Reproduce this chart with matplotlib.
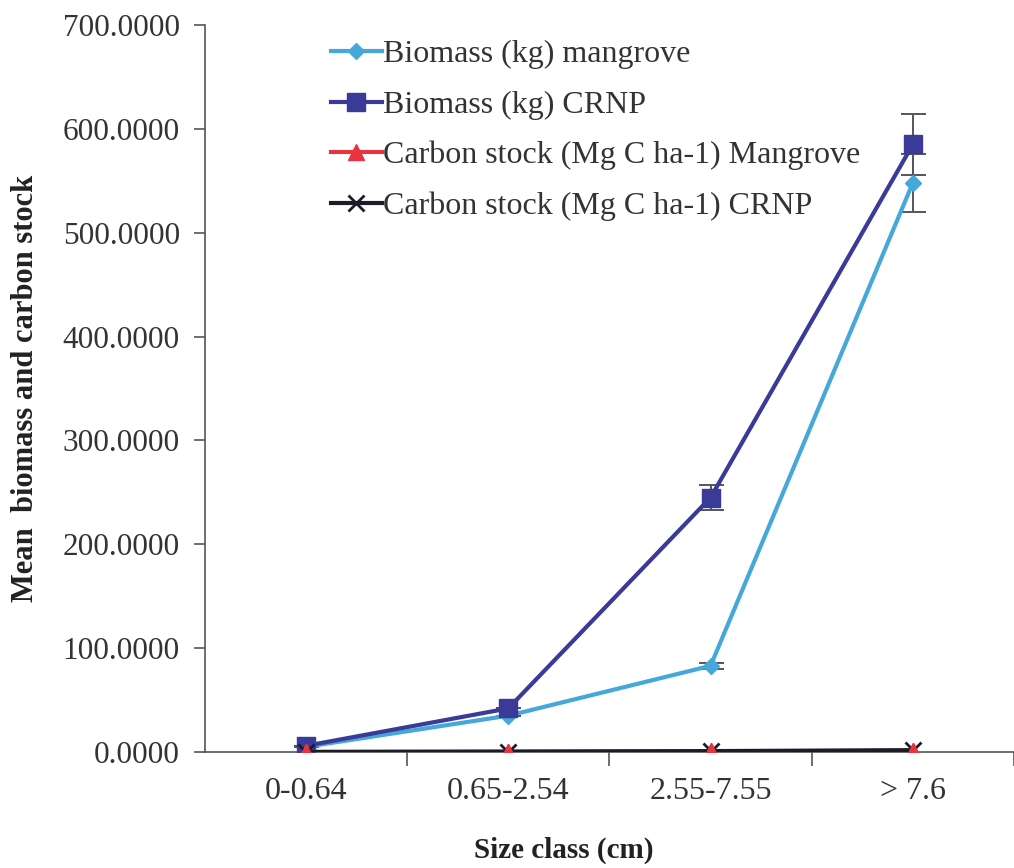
import matplotlib
matplotlib.use("Agg")
import matplotlib.pyplot as plt
from matplotlib.ticker import FuncFormatter, FixedLocator, NullFormatter

plt.rcParams['font.family'] = ['Liberation Serif', 'DejaVu Serif']

categories = ["0-0.64", "0.65-2.54", "2.55-7.55", "> 7.6"]
biomass_mangrove = [5.0, 35.0, 83.0, 548.0]
biomass_mangrove_err = [0.0, 0.0, 3.0, 28.0]
biomass_crnp = [6.0, 42.0, 245.0, 585.0]
biomass_crnp_err = [0.0, 0.0, 12.0, 29.0]
carbon_mangrove = [0.1, 0.3, 0.6, 1.2]
carbon_crnp = [0.1, 0.4, 0.9, 1.8]

c_mangrove = "#45a8d8"
c_crnp = "#3a3a98"
c_carb_mangrove = "#e8343e"
c_carb_crnp = "#1c1c28"

fig = plt.figure(figsize=(10.14, 8.68), dpi=100)
ax = fig.add_axes([0.202, 0.1336, 0.798, 0.8376])

x = [i + 0.5 for i in range(len(categories))]

# error bars drawn on their own so the legend keys stay plain
err_kw = dict(fmt="none", ecolor="#555560", elinewidth=1.4, capsize=9,
              capthick=1.4, zorder=2)
ax.errorbar(x, biomass_mangrove, yerr=biomass_mangrove_err, **err_kw)
ax.errorbar(x, biomass_crnp, yerr=biomass_crnp_err, **err_kw)

ax.plot(x, biomass_mangrove, color=c_mangrove, lw=3, marker="D", ms=8,
        label="Biomass (kg) mangrove", zorder=3)
ax.plot(x, biomass_crnp, color=c_crnp, lw=3, marker="s", ms=13,
        label="Biomass (kg) CRNP", zorder=3)
ax.plot(x, carbon_crnp, color=c_carb_crnp, lw=3, marker="x", ms=11, mew=2,
        label="Carbon stock (Mg C ha-1) CRNP", zorder=4)
ax.plot(x, carbon_mangrove, color=c_carb_mangrove, lw=0, marker="^", ms=12,
        zorder=5)
ax.plot(x, carbon_mangrove, color=c_carb_mangrove, lw=3, marker="^", ms=12,
        label="Carbon stock (Mg C ha-1) Mangrove", zorder=3.5)

ax.set_xlim(0, len(categories))
ax.set_ylim(0, 700)
ax.set_yticks(range(0, 701, 100))
ax.yaxis.set_major_formatter(FuncFormatter(lambda v, p: f"{v:.4f}"))

ax.xaxis.set_major_locator(FixedLocator([1, 2, 3, 4]))
ax.xaxis.set_major_formatter(NullFormatter())
ax.xaxis.set_minor_locator(FixedLocator(x))
ax.set_xticklabels(categories, minor=True)
ax.tick_params(axis="x", which="minor", length=0, pad=18, labelsize=23,
               labelcolor="#333333")
ax.tick_params(axis="x", which="major", length=10, width=1.2, color="#555555")
ax.tick_params(axis="y", length=8, width=1.2, color="#555555", pad=10,
               labelsize=22.5, labelcolor="#333333")

for s in ["top", "right"]:
    ax.spines[s].set_visible(False)
for s in ["left", "bottom"]:
    ax.spines[s].set_color("#555555")
    ax.spines[s].set_linewidth(1.2)

ax.set_ylabel("Mean  biomass and carbon stock", fontsize=22, fontweight="bold",
              color="#222222", labelpad=16)
ax.set_xlabel("Size class (cm)", fontsize=21, fontweight="bold",
              color="#222222")
ax.xaxis.set_label_coords(0.443, -0.116)

handles, labels = ax.get_legend_handles_labels()
order = ["Biomass (kg) mangrove", "Biomass (kg) CRNP",
         "Carbon stock (Mg C ha-1) Mangrove", "Carbon stock (Mg C ha-1) CRNP"]
lookup = dict(zip(labels, handles))
leg = ax.legend([lookup[k] for k in order], order, loc="upper left",
                bbox_to_anchor=(0.128, 1.01), frameon=False, fontsize=23,
                handlelength=1.6, handletextpad=0.05, labelspacing=0.66,
                borderaxespad=0.3)
for t in leg.get_texts():
    t.set_color("#333333")

fig.savefig("out.png", dpi=100)
